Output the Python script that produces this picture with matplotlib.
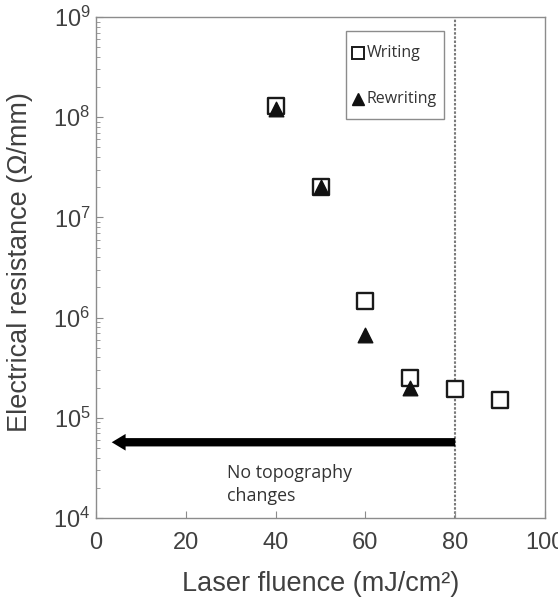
import matplotlib
matplotlib.use("Agg")
import matplotlib.pyplot as plt
from matplotlib.ticker import LogLocator, NullFormatter, FixedLocator
from matplotlib.patches import Rectangle

fluence_writing = [40, 50, 60, 70, 80, 90]
res_writing = [1.28e8, 2.0e7, 1.47e6, 2.5e5, 1.94e5, 1.5e5]
fluence_rewriting = [40, 50, 60, 70]
res_rewriting = [1.2e8, 2.0e7, 6.7e5, 2.0e5]
threshold = 80
arrow_start = 80
arrow_end = 3.5
arrow_y = 5.7e4
x_ticks = [0, 20, 40, 60, 80, 100]

plt.rcParams['font.family'] = ['Liberation Sans', 'DejaVu Sans']
txt = '#404040'
spine = '#8c8c8c'
soft = ['Open Sans', 'DejaVu Sans']

fig = plt.figure(figsize=(5.58, 5.98), dpi=100)
ax = fig.add_axes([96/558, 1-518/598, (545-96)/558, (518-17)/598])
ax.set_yscale('log')
ax.set_xlim(0, 100)
ax.set_ylim(1e4, 1e9)

ax.axvline(threshold, color='#7a7a7a', lw=1.5, ls=(0, (1.2, 0.8)), zorder=1)

ax.annotate('', xy=(arrow_end, arrow_y), xytext=(arrow_start, arrow_y),
            arrowprops=dict(width=6, headwidth=12, headlength=10,
                            facecolor='black', edgecolor='black', lw=0,
                            shrink=0), zorder=2)

ax.text(29.2, 3.45e4, 'No topography\nchanges', fontsize=12.8, color='#333333',
        family=soft, va='top', ha='left', linespacing=1.38)

ax.scatter(fluence_writing, res_writing, marker='s', s=130, facecolors='white',
           edgecolors='#1a1a1a', linewidths=1.7, zorder=3)
ax.scatter(fluence_rewriting, res_rewriting, marker='^', s=110, color='#111111',
           zorder=4)

# legend drawn manually in axes coordinates
def ax_xy(px, py):
    return ((px - 96) / 449, (518 - py) / 501)

lx0, ly0 = ax_xy(346, 119)
lx1, ly1 = ax_xy(444, 31)
ax.add_patch(Rectangle((lx0, ly0), lx1 - lx0, ly1 - ly0, transform=ax.transAxes,
                       facecolor='white', edgecolor=spine, lw=1.0, zorder=5))
mx, my1 = ax_xy(358, 53)
_, my2 = ax_xy(358, 99)
tx, _ = ax_xy(367, 0)
ax.plot([mx], [my1], marker='s', ms=8.5, mfc='white', mec='#1a1a1a', mew=1.4,
        transform=ax.transAxes, zorder=6, clip_on=False)
ax.plot([mx], [my2], marker='^', ms=9, color='#111111',
        transform=ax.transAxes, zorder=6, clip_on=False)
ax.text(tx, my1, 'Writing', transform=ax.transAxes, fontsize=11.5, family=soft,
        color='#333333', va='center', ha='left', zorder=6)
ax.text(tx, my2, 'Rewriting', transform=ax.transAxes, fontsize=11.5, family=soft,
        color='#333333', va='center', ha='left', zorder=6)

for s in ax.spines.values():
    s.set_color(spine)
    s.set_linewidth(1.0)

ax.xaxis.set_major_locator(FixedLocator(x_ticks))
ax.yaxis.set_major_locator(LogLocator(base=10, numticks=10))
ax.yaxis.set_minor_locator(LogLocator(base=10, subs=range(2, 10), numticks=20))
ax.yaxis.set_minor_formatter(NullFormatter())
ax.tick_params(axis='both', which='major', direction='in', colors=spine,
               labelcolor=txt, labelsize=17, length=5)
ax.tick_params(axis='y', which='minor', direction='in', colors=spine, length=3)
ax.tick_params(axis='x', pad=10)
ax.tick_params(axis='y', pad=4)

ax.set_xlabel('Laser fluence (mJ/cm²)', fontsize=19.5, color=txt, labelpad=12)
ax.set_ylabel('Electrical resistance (Ω/mm)', fontsize=19.5, color=txt)
ax.yaxis.set_label_coords(-0.140, 0.51)

fig.savefig('out.png', dpi=100)
